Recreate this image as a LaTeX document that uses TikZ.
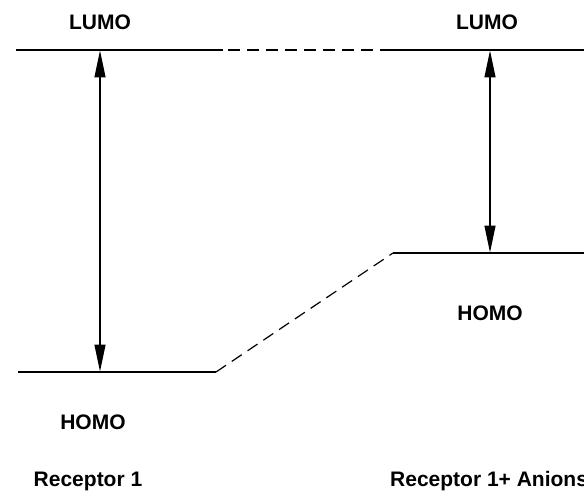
\documentclass[tikz,border=0pt]{standalone}
\usepackage{fontspec}
\setmainfont{Liberation Sans}
\usetikzlibrary{arrows.meta}
\begin{document}
\begin{tikzpicture}[x=1pt,y=-1pt,
  level/.style={line width=1.4pt},
  dlevel/.style={line width=1.2pt,dash pattern=on 12pt off 7pt},
  gap/.style={line width=1.3pt,{Triangle[width=11pt,length=27pt]}-{Triangle[width=11pt,length=27pt]},shorten <=0.5pt,shorten >=0.5pt},
  lbl/.style={font=\bfseries\fontsize{21}{24}\selectfont,inner sep=0pt}]
\useasboundingbox (0,0) rectangle (584,495);
\coordinate (l1a) at (16,50);
\coordinate (l1b) at (223,50);
\coordinate (l2a) at (384,50);
\coordinate (l2b) at (584,50);
\coordinate (h1a) at (18,372);
\coordinate (h1b) at (216,372);
\coordinate (h2a) at (393,253);
\coordinate (h2b) at (584,253);
\coordinate (a1t) at (100,50);
\coordinate (a1b) at (100,372);
\coordinate (a2t) at (490,50);
\coordinate (a2b) at (490,253);
\draw[level] (l1a) -- (l1b);
\draw[level] (l2a) -- (l2b);
\draw[level] (h1a) -- (h1b);
\draw[level] (h2a) -- (h2b);
\draw[dlevel] ([xshift=5pt]l1b) -- (l2a);
\draw[dlevel] (h1b) -- (h2a);
\draw[gap] (a1b) -- (a1t);
\draw[gap] (a2b) -- (a2t);
\node[lbl] (lumo1) at (100,22) {LUMO};
\node[lbl] (lumo2) at (487,22) {LUMO};
\node[lbl] (homo1) at (93,422) {HOMO};
\node[lbl] (homo2) at (490,313) {HOMO};
\node[lbl] (rec1) at (88,481) {Receptor 1};
\node[lbl,anchor=west] (rec2) at (390,481) {Receptor 1+ Anions};
\end{tikzpicture}
\end{document}
